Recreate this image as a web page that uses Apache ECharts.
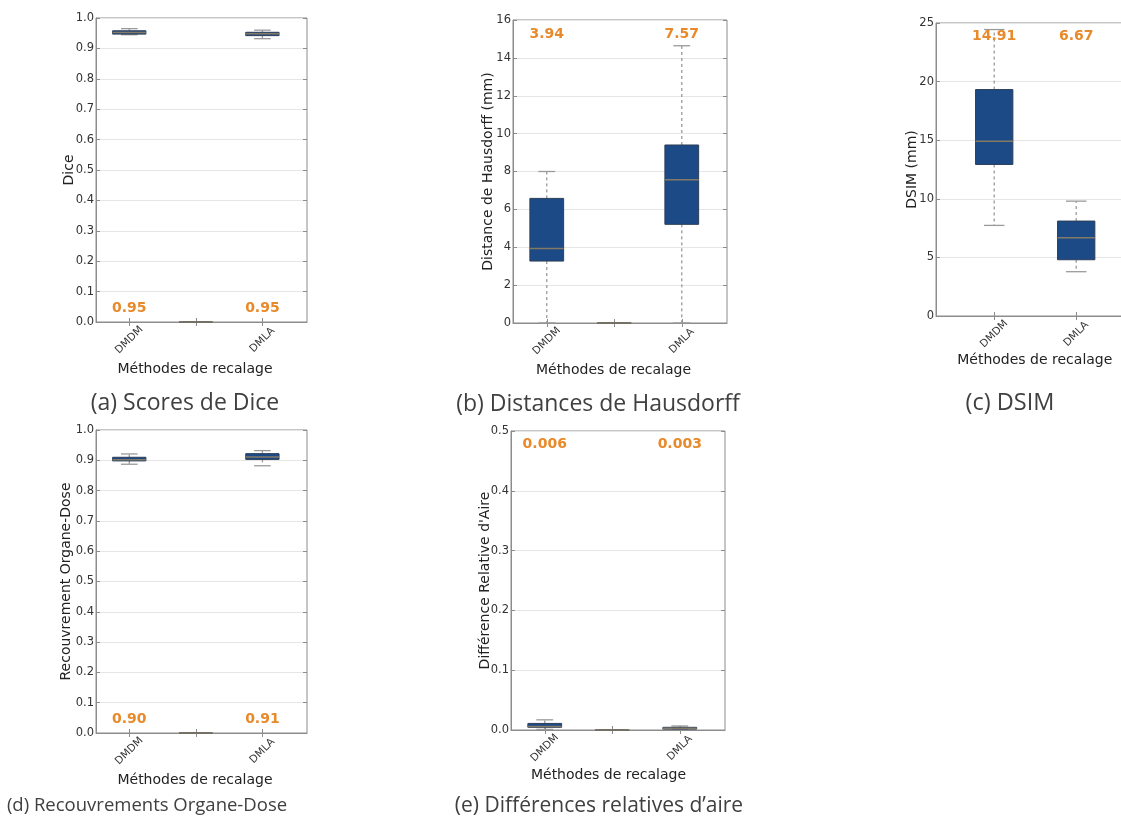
<!DOCTYPE html>
<html><head><meta charset="utf-8">
<script src="https://cdn.jsdelivr.net/npm/echarts@6/dist/echarts.min.js"></script>
<style>html,body{margin:0;padding:0;background:#fff}#chart{width:1121px;height:828px}</style>
</head><body><div id="chart"></div>
<script>
// ---- data ----
const methods3 = ['DMDM', '', 'DMLA'];
const methods2 = ['DMDM', 'DMLA'];
const positions3 = [1, 2, 3];
const positions2 = [1, 2];
// box statistics: [min, q1, median, q3, max]
const diceStats = [[0.945, 0.947, 0.952, 0.958, 0.965], [0, 0, 0, 0, 0], [0.932, 0.942, 0.948, 0.953, 0.960]];
const diceMedianText = ['0.95', '0.95'];
const hausdorffStats = [[0, 3.27, 3.94, 6.58, 8.0], [0, 0, 0, 0, 0], [0, 5.21, 7.57, 9.40, 14.64]];
const hausdorffMedianText = ['3.94', '7.57'];
const dsimStats = [[7.73, 12.93, 14.91, 19.32, 24.44], [3.78, 4.80, 6.67, 8.10, 9.80]];
const dsimMedianText = ['14.91', '6.67'];
const overlapStats = [[0.887, 0.898, 0.902, 0.910, 0.921], [0, 0, 0, 0, 0], [0.882, 0.903, 0.911, 0.922, 0.932]];
const overlapMedianText = ['0.90', '0.91'];
const areaStats = [[0.001, 0.0045, 0.006, 0.011, 0.017], [0, 0, 0, 0, 0], [0.0005, 0.0015, 0.003, 0.0045, 0.0067]];
const areaMedianText = ['0.006', '0.003'];
const xName = 'Méthodes de recalage';
const yNames = ['Dice', 'Distance de Hausdorff (mm)', 'DSIM (mm)', 'Recouvrement Organe-Dose', "Différence Relative d'Aire"];
const captions = ['(a) Scores de Dice', '(b) Distances de Hausdorff', '(c) DSIM', '(d) Recouvrements Organe-Dose', '(e) Différences relatives d’aire'];

// ---- layout / style ----
const BOX_FILL = '#1b4a86', BOX_EDGE = '#2d3e58', MED = '#857a66', WHISK = '#9a9a9a', FRAME = '#8c8c8c';
const ORANGE = '#E8892A';
const panels = [
  {grid: {left: 96, top: 18, width: 211, height: 304}, xMin: 0.5, xMax: 3.67, yMax: 1, yInt: 0.1, dec: 1,
   cats: methods3, pos: positions3, stats: diceStats, text: diceMedianText, textPos: [1, 3], labelY: 0.045,
   yName: yNames[0], yGap: 20, xGap: 40, xShift: 13, caption: captions[0], capX: 185, capY: 403, capSize: 23, boxW: 0.5},
  {grid: {left: 513, top: 20, width: 214, height: 303}, xMin: 0.5, xMax: 3.67, yMax: 16, yInt: 2, dec: 0,
   cats: methods3, pos: positions3, stats: hausdorffStats, text: hausdorffMedianText, textPos: [1, 3], labelY: 15.25,
   yName: yNames[1], yGap: 18, xGap: 40, xShift: 13, caption: captions[1], capX: 598, capY: 404, capSize: 23, boxW: 0.5},
  {grid: {left: 936, top: 23, width: 197.6, height: 293}, xMin: 0.29, xMax: 2.7, yMax: 25, yInt: 5, dec: 0,
   cats: methods2, pos: positions2, stats: dsimStats, text: dsimMedianText, textPos: [1, 2], labelY: 23.9,
   yName: yNames[2], yGap: 17, xGap: 37, xShift: 0, caption: captions[2], capX: 1010, capY: 403, capSize: 23.5, boxW: 0.455},
  {grid: {left: 96, top: 430, width: 211, height: 303}, xMin: 0.5, xMax: 3.67, yMax: 1, yInt: 0.1, dec: 1,
   cats: methods3, pos: positions3, stats: overlapStats, text: overlapMedianText, textPos: [1, 3], labelY: 0.044,
   yName: yNames[3], yGap: 23, xGap: 40, xShift: 13, caption: captions[3], capX: 147, capY: 806, capSize: 18.5, boxW: 0.5},
  {grid: {left: 511, top: 431, width: 214, height: 299}, xMin: 0.5, xMax: 3.67, yMax: 0.5, yInt: 0.1, dec: 1,
   cats: methods3, pos: positions3, stats: areaStats, text: areaMedianText, textPos: [1, 3], labelY: 0.478,
   yName: yNames[4], yGap: 19, xGap: 38, xShift: 19, caption: captions[4], capX: 599, capY: 806, capSize: 21, boxW: 0.5}
];

const TICK_FONT = 'DejaVu Sans';
const grids = [], xAxes = [], yAxes = [], series = [], graphics = [];

panels.forEach((p, i) => {
  grids.push(Object.assign({show: true, borderColor: FRAME, borderWidth: 1, backgroundColor: 'transparent',
    containLabel: false, outerBoundsMode: 'none'}, p.grid));
  // bottom axis with method labels
  xAxes.push({
    type: 'value', gridIndex: i, min: p.xMin, max: p.xMax, position: 'bottom',
    name: xName, nameLocation: 'middle', nameGap: p.xGap, nameMoveOverlap: false,
    nameTextStyle: {fontFamily: TICK_FONT, fontSize: 14, color: '#222', padding: [0, p.xShift, 0, 0]},
    axisLine: {show: true, lineStyle: {color: FRAME}},
    axisTick: {show: true, inside: true, length: 4, customValues: p.pos, lineStyle: {color: FRAME}},
    axisLabel: {show: true, customValues: p.pos, rotate: 45, align: 'center', verticalAlign: 'middle', margin: 18,
      fontFamily: TICK_FONT, fontSize: 10.5, color: '#333',
      formatter: v => { const k = p.pos.indexOf(Math.round(v)); return k >= 0 ? p.cats[k] : ''; }},
    splitLine: {show: false}
  });
  // top axis: inward ticks only
  xAxes.push({
    type: 'value', gridIndex: i, min: p.xMin, max: p.xMax, position: 'top',
    axisLine: {show: false}, axisLabel: {show: false}, splitLine: {show: false},
    axisTick: {show: true, inside: true, length: 4, customValues: p.pos, lineStyle: {color: FRAME}}
  });
  yAxes.push({
    type: 'value', gridIndex: i, min: 0, max: p.yMax, interval: p.yInt, position: 'left',
    name: p.yName, nameLocation: 'middle', nameGap: p.yGap, nameRotate: 90, nameMoveOverlap: false,
    nameTextStyle: {fontFamily: TICK_FONT, fontSize: 14, color: '#222'},
    axisLine: {show: true, lineStyle: {color: FRAME}},
    axisTick: {show: true, inside: true, length: 4, lineStyle: {color: FRAME}},
    axisLabel: {fontFamily: TICK_FONT, fontSize: 11.5, color: '#333', margin: 2,
      formatter: v => v.toFixed(p.dec)},
    splitLine: {show: true, lineStyle: {color: '#e6e6e6', width: 1}}
  });
  yAxes.push({
    type: 'value', gridIndex: i, min: 0, max: p.yMax, interval: p.yInt, position: 'right',
    axisLine: {show: false}, axisLabel: {show: false}, splitLine: {show: false},
    axisTick: {show: true, inside: true, length: 4, lineStyle: {color: FRAME}}
  });
  const xi = 2 * i, yi = 2 * i;
  const boxData = p.stats.map((s, k) => [p.pos[k]].concat(s));
  series.push({
    type: 'custom', coordinateSystem: 'cartesian2d', xAxisIndex: xi, yAxisIndex: yi, clip: false,
    data: boxData, z: 3,
    renderItem: (params, api) => {
      const x = api.value(0);
      const mn = api.value(1), q1 = api.value(2), md = api.value(3), q3 = api.value(4), mx = api.value(5);
      const bw = api.size([p.boxW, 0])[0];
      const cw = api.size([0.25, 0])[0];
      const pMin = api.coord([x, mn]), pQ1 = api.coord([x, q1]), pMd = api.coord([x, md]),
            pQ3 = api.coord([x, q3]), pMax = api.coord([x, mx]);
      const cx = pMd[0];
      return {type: 'group', children: [
        {type: 'line', shape: {x1: cx, y1: pQ1[1], x2: cx, y2: pMin[1]},
         style: {stroke: WHISK, lineWidth: 1.3, lineDash: [3, 3]}},
        {type: 'line', shape: {x1: cx, y1: pQ3[1], x2: cx, y2: pMax[1]},
         style: {stroke: WHISK, lineWidth: 1.3, lineDash: [3, 3]}},
        {type: 'line', shape: {x1: cx - cw / 2, y1: pMin[1], x2: cx + cw / 2, y2: pMin[1]},
         style: {stroke: WHISK, lineWidth: 1.3}},
        {type: 'line', shape: {x1: cx - cw / 2, y1: pMax[1], x2: cx + cw / 2, y2: pMax[1]},
         style: {stroke: WHISK, lineWidth: 1.3}},
        {type: 'rect', shape: {x: cx - bw / 2, y: pQ3[1], width: bw, height: pQ1[1] - pQ3[1]},
         style: {fill: BOX_FILL, stroke: BOX_EDGE, lineWidth: 1}},
        {type: 'line', shape: {x1: cx - bw / 2, y1: pMd[1], x2: cx + bw / 2, y2: pMd[1]},
         style: {stroke: MED, lineWidth: 1.5}}
      ]};
    }
  });
  series.push({
    type: 'custom', coordinateSystem: 'cartesian2d', xAxisIndex: xi, yAxisIndex: yi, clip: false, z: 4,
    data: p.textPos.map(x => [x, p.labelY]),
    renderItem: (params, api) => {
      const pt = api.coord([api.value(0), api.value(1)]);
      return {type: 'text', x: pt[0], y: pt[1], style: {text: p.text[params.dataIndex], fill: ORANGE,
        font: 'bold 14px "DejaVu Sans"', align: 'center', verticalAlign: 'middle',
        textAlign: 'center', textVerticalAlign: 'middle'}};
    }
  });
  graphics.push({type: 'text', x: p.capX, y: p.capY, style: {text: p.caption, fill: '#404040',
    font: p.capSize + 'px "Open Sans"', align: 'center', verticalAlign: 'middle', textAlign: 'center', textVerticalAlign: 'middle'}});
});

const chart = echarts.init(document.getElementById('chart'), null, {renderer: 'canvas'});
chart.setOption({
  animation: false, backgroundColor: '#fff',
  grid: grids, xAxis: xAxes, yAxis: yAxes, series: series, graphic: graphics
});
</script></body></html>
